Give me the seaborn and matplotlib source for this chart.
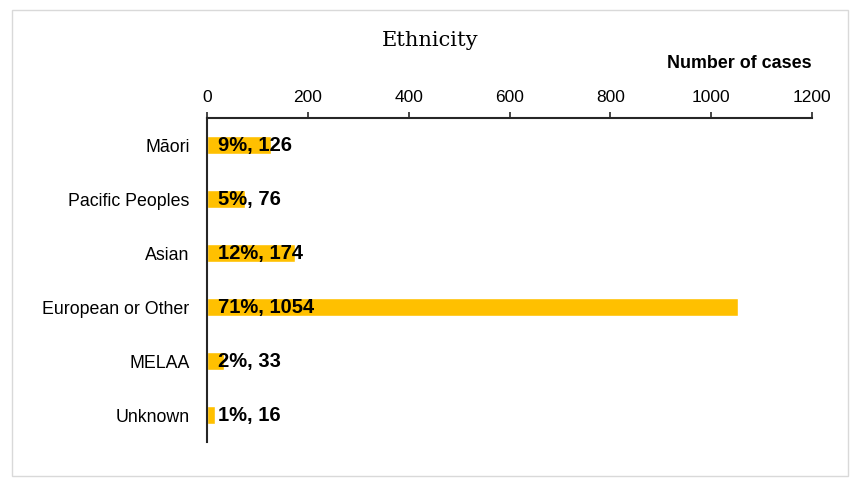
import matplotlib
matplotlib.use("Agg")
import matplotlib.pyplot as plt
import seaborn as sns
import pandas as pd
from matplotlib.patches import Rectangle

categories = ["Māori", "Pacific Peoples", "Asian", "European or Other", "MELAA", "Unknown"]
cases = [126, 76, 174, 1054, 33, 16]
percents = ["9%", "5%", "12%", "71%", "2%", "1%"]
xticks = [0, 200, 400, 600, 800, 1000, 1200]

sns.set_theme(style="white")
plt.rcParams['font.family'] = ['Liberation Sans', 'DejaVu Sans']

df = pd.DataFrame({"Ethnicity": categories, "Cases": cases})

W, H = 859, 490
fig = plt.figure(figsize=(W/100, H/100), dpi=100)
ax = fig.add_axes([207/W, 1-442/H, (812-207)/W, (442-118)/H])

sns.barplot(data=df, y="Ethnicity", x="Cases", color="#FFC000", width=0.32,
            saturation=1, ax=ax, orient="h")

ax.set_xlim(0, 1200)
ax.set_ylim(5.5, -0.5)
ax.xaxis.set_ticks_position("top")
ax.xaxis.set_label_position("top")
ax.set_xticks(xticks)
ax.set_xticklabels([str(t) for t in xticks])
ax.tick_params(axis="x", direction="out", length=4, width=1.2, color="#262626",
               labelsize=12.5, pad=5, labelcolor="black", top=True, bottom=False)
ax.tick_params(axis="y", length=0, labelsize=12.8, pad=12.5, labelcolor="black")
ax.set_xlabel("")
ax.set_ylabel("")
for s in ["right", "bottom"]:
    ax.spines[s].set_visible(False)
for s in ["top", "left"]:
    ax.spines[s].set_visible(True)
    ax.spines[s].set_color("#262626")
    ax.spines[s].set_linewidth(1.5)

for i, (p, c) in enumerate(zip(percents, cases)):
    ax.annotate(f"{p}, {c}", xy=(0, i), xytext=(8, 0), textcoords="offset points",
                ha="left", va="center", fontsize=14.5, fontweight="bold", color="black")

fig.text(430/W, 1-40/H, "Ethnicity", ha="center", va="center", fontsize=15,
         family=["DejaVu Serif"], color="black")
fig.text(812/W, 1-64/H, "Number of cases", ha="right", va="center", fontsize=12.9,
         fontweight="bold", color="black")

fig.patches.append(Rectangle((12/W, 1-476/H), (848-12)/W, (476-10)/H,
                             transform=fig.transFigure, fill=False,
                             edgecolor="#D9D9D9", linewidth=1))

fig.savefig("out.png", dpi=100)
